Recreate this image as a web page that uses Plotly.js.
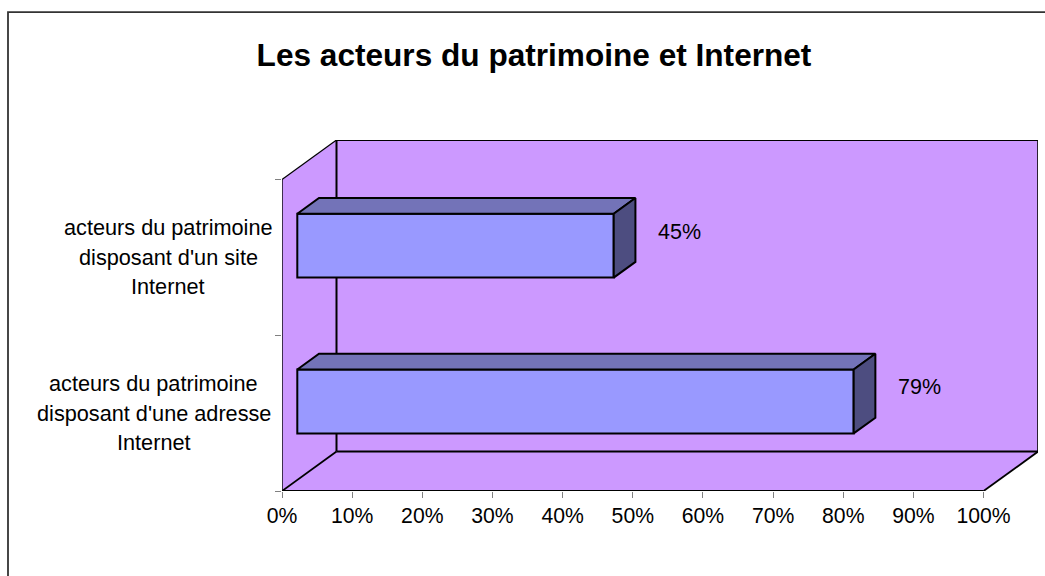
<!DOCTYPE html>
<html>
<head>
<meta charset="utf-8">
<script src="https://cdn.plot.ly/plotly-3.0.1.min.js"></script>
<style>html,body{margin:0;padding:0;background:#fff;overflow:hidden}</style>
</head>
<body>
<div id="chart" style="width:1045px;height:576px"></div>
<script>
const chartTitle = "Les acteurs du patrimoine et Internet";
const categoryLabels = [
  ["acteurs du patrimoine", "disposant d'une adresse", "Internet"],
  ["acteurs du patrimoine", "disposant d'un site", "Internet"]
];
const seriesValues = [79.3, 45.1];
const xTicks = [0, 10, 20, 30, 40, 50, 60, 70, 80, 90, 100];

const W = 1045, H = 576;
const L = 282, R = 1038, T = 140, B = 491.5;
const pxX = 7.016, pxY = 156;
const wallDX = 54.5 / pxX, wallDY = 39.5 / pxY;
const barX = 15.3 / pxX, barY = 11.7 / pxY, barH = 64 / pxY;
const depthX = 21.7 / pxX, depthY = 15.7 / pxY;
const black = "#000000", wall = "#CC99FF";
const FONT = "Liberation Sans, Arial, sans-serif";

const yPos = seriesValues.map((_, i) => i + 0.5 + barY);
const front = {
  type: "bar", orientation: "h", x: seriesValues, y: yPos, base: barX, width: barH,
  marker: { color: "#9999FF", line: { color: black, width: 2 } },
  hoverinfo: "skip", showlegend: false
};
const face = (xs, ys, color) => ({
  type: "scatter", mode: "lines", x: xs, y: ys, fill: "toself", fillcolor: color,
  line: { color: black, width: 2 }, hoverinfo: "skip", showlegend: false
});
const faces = [];
seriesValues.forEach((v, i) => {
  const x0 = barX, x1 = barX + v, yb = yPos[i] - barH / 2, yt = yPos[i] + barH / 2;
  faces.push(face([x0, x0 + depthX, x1 + depthX, x1, x0], [yt, yt + depthY, yt + depthY, yt, yt], "#7373B8"));
  faces.push(face([x1, x1 + depthX, x1 + depthX, x1, x1], [yt, yt + depthY, yb + depthY, yb, yt], "#4D4D80"));
});

const line = (x0, y0, x1, y1, w) => ({
  type: "line", xref: "x", yref: "y", layer: "below", x0, y0, x1, y1, line: { color: black, width: w }
});
const yTop = 2, xEnd = 100;
const shapes = [
  { type: "path", xref: "x", yref: "y", layer: "below",
    path: `M 0 0 L 0 ${yTop} L ${wallDX} ${yTop + wallDY} L ${xEnd + wallDX} ${yTop + wallDY} L ${xEnd + wallDX} ${wallDY} L ${xEnd} 0 Z`,
    fillcolor: wall, line: { width: 0 } },
  line(wallDX, wallDY, wallDX, yTop + wallDY, 2),
  line(wallDX, yTop + wallDY, xEnd + wallDX, yTop + wallDY, 2),
  line(xEnd + wallDX, yTop + wallDY, xEnd + wallDX, wallDY, 1.8),
  line(wallDX, wallDY, xEnd + wallDX, wallDY, 2),
  line(0, 0, wallDX, wallDY, 1.8),
  line(xEnd, 0, xEnd + wallDX, wallDY, 1.8),
  line(0, yTop, wallDX, yTop + wallDY, 1.2),
  line(0, 0, 0, yTop, 1.4),
  line(0, 0, xEnd, 0, 2),
  { type: "path", xref: "paper", yref: "paper", layer: "below",
    path: `M ${(8 - L) / (R - L)} ${(B - 600) / (B - T)} L ${(8 - L) / (R - L)} ${(B - 12) / (B - T)} L ${(1060 - L) / (R - L)} ${(B - 12) / (B - T)}`,
    line: { color: "#333333", width: 1.8 }, fillcolor: "rgba(0,0,0,0)" }
];

const annotations = [];
const labelCenters = [153.5, 168];
const labelY = [384, 228];
categoryLabels.forEach((lines, i) => {
  lines.forEach((t, j) => {
    annotations.push({
      text: t, xref: "paper", yref: "paper", showarrow: false,
      x: (labelCenters[i] - L) / (R - L), y: (B - (labelY[i] + j * 29.5)) / (B - T),
      xanchor: "center", yanchor: "middle",
      font: { family: FONT, size: 21.7, color: "#000" }
    });
  });
});
seriesValues.forEach((v, i) => {
  annotations.push({
    text: v.toFixed(0) + "%", xref: "x", yref: "y", showarrow: false,
    x: barX + v + 66 / pxX, y: yPos[i] + 14 / pxY,
    xanchor: "center", yanchor: "middle",
    font: { family: FONT, size: 21.5, color: "#000" }
  });
});

const layout = {
  width: W, height: H,
  margin: { l: L, r: W - R, t: T, b: H - B, pad: 0 },
  paper_bgcolor: "#fff", plot_bgcolor: "rgba(0,0,0,0)",
  title: { text: "<b>" + chartTitle + "</b>", x: 534 / W, xanchor: "center", y: 1 - 55 / H, yanchor: "middle",
    font: { family: FONT, size: 31.6, color: "#000" } },
  bargap: 0, showlegend: false,
  xaxis: { range: [0, (R - L) / pxX], tickmode: "array", tickvals: xTicks, ticktext: xTicks.map(t => t + "%"),
    ticks: "outside", ticklen: 6, tickcolor: "#808080", tickwidth: 1, showgrid: false, zeroline: false, showline: false,
    tickfont: { family: FONT, size: 21.2, color: "#000" } },
  yaxis: { range: [0, (B - T) / pxY], tickmode: "array", tickvals: [0, 1, 2], ticktext: ["", "", ""],
    ticks: "outside", ticklen: 6, tickcolor: "#808080", tickwidth: 1, showgrid: false, zeroline: false, showline: false },
  shapes, annotations
};
Plotly.newPlot("chart", [front].concat(faces), layout, { displayModeBar: false, staticPlot: true });
</script>
</body>
</html>
